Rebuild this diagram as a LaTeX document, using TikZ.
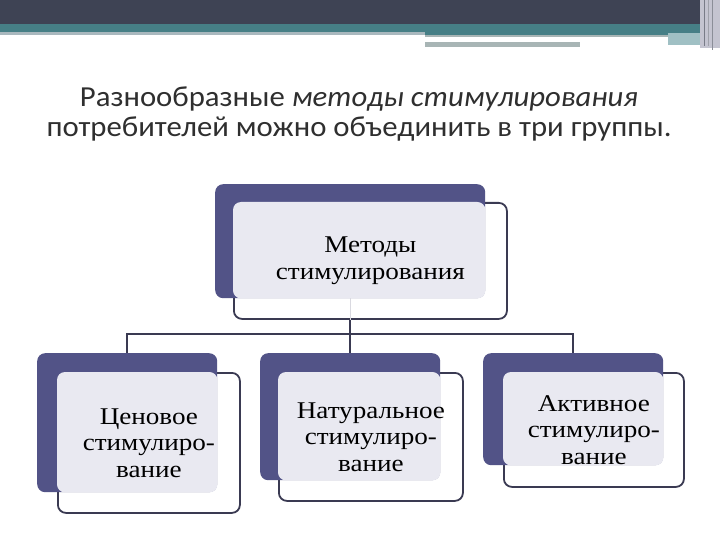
\documentclass[tikz,border=0pt]{standalone}
\usepackage{fontspec}
\setmainfont{Liberation Serif}
\newfontfamily\boxfont{Liberation Serif}[FakeStretch=1.13]
\newfontfamily\titlefont{Carlito}[FakeStretch=1.06]
\usetikzlibrary{backgrounds}
\definecolor{bandDark}{RGB}{62,67,84}
\definecolor{bandTeal}{RGB}{70,127,134}
\definecolor{bandGrey}{RGB}{169,184,190}
\definecolor{bandGrey2}{RGB}{168,181,181}
\definecolor{bandLight}{RGB}{160,192,196}
\definecolor{cornerLav}{RGB}{196,196,208}
\definecolor{darkBox}{RGB}{82,83,135}
\definecolor{lightFill}{RGB}{233,233,241}
\definecolor{lineCol}{RGB}{58,58,82}
\definecolor{titleCol}{RGB}{47,47,47}
\tikzset{
  darkrect/.style={fill=darkBox, rounded corners=8pt, inner sep=0pt, anchor=north west},
  outlinebox/.style={draw=lineCol, line width=1.8pt, fill=white, rounded corners=8pt, inner sep=0pt, anchor=north west},
  boxtext/.style={align=center, font=\boxfont\fontsize{24}{26.5}\selectfont, text=black},
  conn/.style={draw=lineCol, line width=1.8pt},
}
\begin{document}
\begin{tikzpicture}[x=1pt,y=-1pt]
\useasboundingbox (0,0) rectangle (720,540);
% top band
\fill[bandDark] (0,0) rectangle (720,24);
\fill[bandTeal] (0,24) rectangle (700,32);
\fill[bandGrey] (0,32) rectangle (425,35);
\fill[bandTeal] (425,32) rectangle (700,35);
\fill[bandGrey2] (425,35) rectangle (668,37.5);
\fill[bandLight] (668,33) rectangle (700,45);
\fill[bandGrey2] (425,42) rectangle (580,47);
\fill[cornerLav] (700,0) rectangle (720,48);
\draw[bandDark!70, line width=1pt] (704,0) -- (704,46);
\draw[bandDark!50, line width=1pt] (708,0) -- (708,46);
\draw[bandDark!60, line width=1pt] (712,0) -- (712,50);
% title
\node (title) [align=center, text=titleCol, font=\titlefont\fontsize{29}{30}\selectfont] at (359,114)
  {Разнообразные \textit{методы стимулирования}\\потребителей можно объединить в три группы.};
% top group
\node (topbox) [outlinebox, minimum width=273pt, minimum height=116pt] at (233,202) {};
\node (topdark) [darkrect, minimum width=270pt, minimum height=114pt] at (215,184) {};
\fill[lightFill, rounded corners=8pt] (topbox.north west) rectangle (topdark.south east);
\node (toptext) [boxtext] at (topbox.center) {Методы\\стимулирования};
% left group
\node (lbox) [outlinebox, minimum width=182pt, minimum height=140pt] at (57,372) {};
\node (ldark) [darkrect, minimum width=180pt, minimum height=139pt] at (37,353) {};
\fill[lightFill, rounded corners=8pt] (lbox.north west) rectangle (ldark.south east);
\node (ltext) [boxtext] at (lbox.center) {Ценовое\\стимулиро-\\вание};
% middle group
\node (mbox) [outlinebox, minimum width=184pt, minimum height=128pt] at (278,372) {};
\node (mdark) [darkrect, minimum width=180pt, minimum height=127pt] at (260,353) {};
\fill[lightFill, rounded corners=8pt] (mbox.north west) rectangle (mdark.south east);
\node (mtext) [boxtext] at (mbox.center) {Натуральное\\стимулиро-\\вание};
% right group
\node (rbox) [outlinebox, minimum width=180pt, minimum height=114pt] at (503,372) {};
\node (rdark) [darkrect, minimum width=180pt, minimum height=112pt] at (483,353) {};
\fill[lightFill, rounded corners=8pt] (rbox.north west) rectangle (rdark.south east);
\node (rtext) [boxtext] at (rbox.center) {Активное\\стимулиро-\\вание};
% connectors
\begin{scope}[on background layer]
\fill[white] (0,0) rectangle (720,540);
\coordinate (bus) at (350,334);
\draw[conn] (topdark.south) -- (topdark.south |- bus) -| (ldark.north);
\draw[conn] (topdark.south |- bus) -| (rdark.north);
\draw[conn] (topdark.south) -- (mdark.north);
\end{scope}
\draw[lightFill!85!gray, line width=1pt] (topdark.south) -- (topdark.south |- topbox.south);
\end{tikzpicture}
\end{document}
